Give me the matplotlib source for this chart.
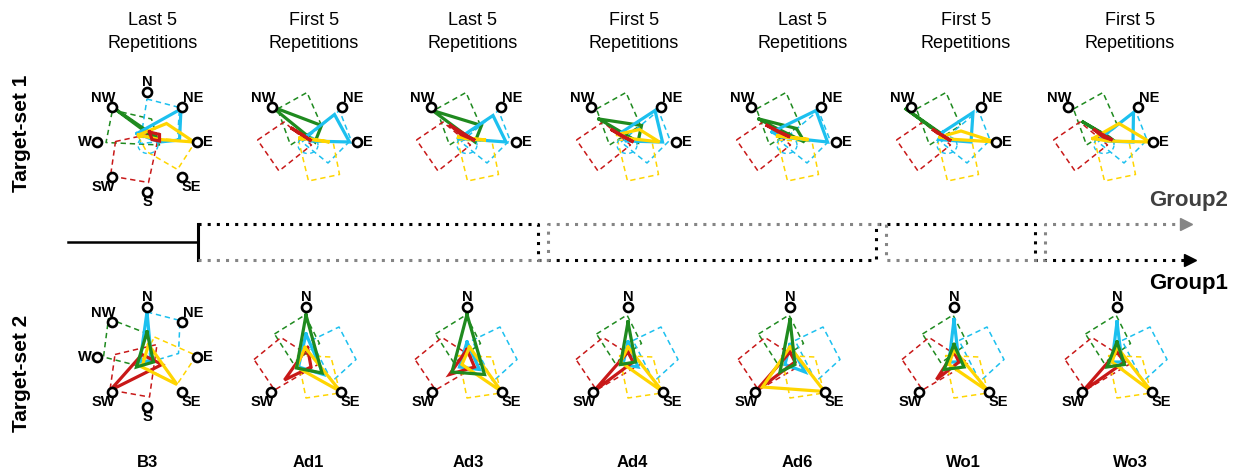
import numpy as np
import matplotlib
matplotlib.use("Agg")
import matplotlib.pyplot as plt

plt.rcParams["font.family"] = ["Liberation Sans", "DejaVu Sans"]

W, H = 1238, 473

COLUMNS = ["B3", "Ad1", "Ad3", "Ad4", "Ad6", "Wo1", "Wo3"]
TITLES = ["Last 5\nRepetitions", "First 5\nRepetitions", "Last 5\nRepetitions",
          "First 5\nRepetitions", "Last 5\nRepetitions", "First 5\nRepetitions",
          "First 5\nRepetitions"]
ROWS = ["Target-set 1", "Target-set 2"]

DIRS = ["N", "NE", "E", "SE", "S", "SW", "W", "NW"]
DIR_XY = {"N": (0, 1), "NE": (0.707, 0.707), "E": (1, 0), "SE": (0.707, -0.707),
          "S": (0, -1), "SW": (-0.707, -0.707), "W": (-1, 0), "NW": (-0.707, 0.707)}
TOP_TARGETS = ["NW", "NE", "E"]
BOT_TARGETS = ["N", "SW", "SE"]

GREEN, CYAN, RED, YELLOW = "#1f8a1f", "#1cc0ef", "#c81818", "#ffd500"

# mean movement polygons (normalised, target distance = 1)
TOP_GREEN = [
    [(-0.71, 0.71), (0.25, 0.0), (0.15, 0.12)],
    [(-0.71, 0.71), (0.29, 0.33), (0.16, 0.0)],
    [(-0.67, 0.63), (0.31, 0.33), (0.18, 0.0)],
    [(-0.54, 0.46), (0.31, 0.33), (0.24, 0.0)],
    [(-0.54, 0.46), (0.21, 0.27), (0.37, 0.0), (-0.3, 0.33)],
    [(-0.8, 0.66), (0.05, 0.04), (0.0, 0.1)],
    [(-0.4, 0.4), (0.25, 0.0), (0.12, 0.1)],
]
TOP_CYAN = [
    [(-0.2, 0.17), (0.68, 0.66), (0.65, 0.04), (0.25, 0.0)],
    [(0.0, 0.12), (0.55, 0.55), (0.85, 0.0), (0.05, 0.02)],
    [(-0.15, 0.07), (0.54, 0.53), (0.8, 0.0), (0.0, 0.06)],
    [(-0.08, 0.2), (0.58, 0.63), (0.73, 0.0), (0.0, 0.02)],
    [(-0.28, 0.2), (0.6, 0.63), (0.83, 0.0), (-0.1, 0.1)],
    [(-0.06, 0.2), (0.54, 0.59), (0.5, 0.0), (-0.15, 0.05)],
    [(0.03, 0.14), (0.61, 0.59), (0.6, 0.0), (0.05, 0.02)],
]
TOP_YELLOW = [
    [(-0.17, 0.14), (0.39, 0.37), (0.94, 0.0), (0.25, 0.05)],
    [(-0.14, 0.08), (0.45, 0.0), (0.15, 0.05)],
    [(-0.15, 0.1), (0.4, 0.04), (0.05, 0.06)],
    [(-0.17, 0.15), (0.27, 0.25), (0.67, 0.0), (0.0, 0.08)],
    [(-0.17, 0.12), (0.45, 0.05), (0.05, 0.1)],
    [(-0.12, 0.1), (0.3, 0.22), (0.98, 0.0), (0.05, 0.06)],
    [(-0.2, 0.07), (0.32, 0.37), (0.94, 0.0), (0.1, 0.02)],
]
TOP_RED = [
    [(0.05, 0.2), (0.25, 0.15), (0.25, 0.02), (0.1, 0.05)],
    [(-0.3, 0.27), (0.09, 0.02), (-0.1, 0.15)],
    [(-0.31, 0.33), (0.18, 0.03), (-0.1, 0.15)],
    [(-0.28, 0.24), (0.15, 0.0), (-0.08, 0.12)],
    [(-0.38, 0.33), (0.08, 0.1), (-0.15, 0.2)],
    [(-0.25, 0.24), (0.1, 0.02), (-0.05, 0.12)],
    [(-0.17, 0.24), (0.19, 0.04), (0.0, 0.1)],
]
BOT_GREEN = [
    [(0.0, 0.5), (-0.21, -0.2), (0.13, -0.1)],
    [(0.0, 0.84), (-0.19, -0.22), (0.32, -0.32)],
    [(0.0, 0.85), (-0.3, -0.3), (0.35, -0.35)],
    [(0.0, 0.7), (-0.15, -0.15), (0.15, -0.1)],
    [(0.0, 0.75), (-0.2, -0.3), (0.1, -0.15)],
    [(0.0, 0.25), (-0.2, -0.25), (0.2, -0.2)],
    [(0.0, 0.3), (-0.2, -0.2), (0.15, -0.15)],
]
BOT_CYAN = [
    [(0.0, 0.9), (-0.14, -0.1), (0.09, -0.07)],
    [(0.0, 0.46), (-0.15, -0.2), (0.35, -0.35)],
    [(0.0, 0.3), (-0.15, -0.2), (0.25, -0.25)],
    [(0.0, 0.3), (-0.1, -0.15), (0.2, -0.2)],
    [(0.0, 0.25), (-0.1, -0.15), (0.3, -0.3)],
    [(0.0, 0.75), (-0.1, -0.1), (0.1, -0.1)],
    [(0.0, 0.7), (-0.1, -0.1), (0.1, -0.1)],
]
BOT_YELLOW = [
    [(0.03, 0.25), (0.6, -0.55), (-0.1, -0.2)],
    [(-0.02, 0.19), (0.69, -0.69), (-0.19, -0.2)],
    [(0.05, 0.2), (0.69, -0.69), (-0.1, -0.15)],
    [(0.0, 0.2), (0.69, -0.69), (-0.15, -0.1)],
    [(0.0, 0.2), (0.69, -0.69), (-0.55, -0.6)],
    [(0.0, 0.15), (0.69, -0.69), (-0.1, -0.15)],
    [(0.0, 0.2), (0.69, -0.69), (-0.1, -0.1)],
]
BOT_RED = [
    [(-0.74, -0.67), (-0.1, 0.05), (0.3, -0.15)],
    [(0.03, 0.19), (-0.43, -0.46), (0.1, -0.2)],
    [(0.0, 0.15), (-0.35, -0.35), (0.15, -0.2)],
    [(0.0, 0.1), (-0.69, -0.69), (0.1, -0.1)],
    [(0.0, 0.1), (-0.69, -0.69), (0.1, -0.1)],
    [(0.0, 0.1), (-0.35, -0.45), (0.1, -0.1)],
    [(0.0, 0.1), (-0.69, -0.69), (0.15, -0.1)],
]

# dashed variability squares: first panel, then the others
TOP_SQ_FIRST = {
    GREEN: [(-0.69, 0.64), (0.09, 0.46), (0.25, -0.06), (-0.82, -0.01)],
    CYAN: [(0.0, 0.86), (0.65, 0.69), (0.61, 0.04), (-0.14, -0.03)],
    RED: [(-0.63, 0.01), (0.25, 0.2), (0.03, -0.81), (-0.73, -0.68)],
    YELLOW: [(-0.17, 0.1), (0.97, 0.01), (0.61, -0.55), (-0.01, -0.19)],
}
TOP_SQ = {
    GREEN: [(-0.59, 0.66), (0.0, 0.99), (0.29, 0.33), (-0.33, -0.06)],
    CYAN: [(-0.1, 0.0), (0.65, 0.63), (0.88, 0.04), (0.42, -0.42)],
    RED: [(-0.99, 0.04), (-0.46, 0.4), (0.09, -0.06), (-0.56, -0.58)],
    YELLOW: [(-0.17, 0.04), (0.52, 0.01), (0.65, -0.65), (0.03, -0.78)],
}
BOT_SQ_FIRST = {
    GREEN: [(-0.77, 0.77), (0.0, 0.47), (-0.2, -0.17), (-0.87, 0.0)],
    CYAN: [(0.0, 0.9), (0.66, 0.73), (0.63, 0.07), (0.06, -0.1)],
    RED: [(-0.64, 0.05), (0.2, 0.25), (0.05, -0.8), (-0.74, -0.66)],
    YELLOW: [(0.15, 0.4), (0.99, 0.03), (0.6, -0.55), (-0.15, -0.15)],
}
BOT_SQ = {
    GREEN: [(-0.63, 0.46), (-0.02, 0.84), (0.27, 0.27), (-0.26, -0.12)],
    CYAN: [(0.1, 0.33), (0.66, 0.6), (1.0, -0.05), (0.52, -0.49)],
    RED: [(-1.04, -0.05), (-0.5, 0.39), (0.29, -0.12), (-0.63, -0.66)],
    YELLOW: [(-0.17, 0.03), (0.5, 0.0), (0.68, -0.72), (0.0, -0.82)],
}

TOP_CX = [147, 307, 466, 626, 786, 946, 1103]
BOT_CX = [147, 306, 467, 628, 790, 954, 1117]
TOP_CY, BOT_CY = 142, 357
TITLE_X = [153, 314, 473, 634, 803, 966, 1130]
NAME_X = [147, 308, 468, 632, 797, 963, 1130]

# timeline: where the two groups swap
SWAP_X = [538, 876, 1035]
START_X, END_X = 198, 1198

R = 50.0
HALF = 75.0

# label offsets in px: (dx, dy, ha)
LABEL_OFF = {"N": (0, 10, "center"), "NE": (11, 9, "center"), "E": (6, 0, "left"),
             "SE": (9, -10, "center"), "S": (0, -10, "center"),
             "SW": (-8, -10, "center"), "W": (-5, 0, "right"),
             "NW": (-8, 9, "center")}


def fx(px):
    return px / W


def fy(py):
    return 1 - py / H


def closed(pts):
    a = np.array(pts + [pts[0]])
    return a[:, 0], a[:, 1]


def draw_panel(fig, cx, cy, targets, squares, polys, show_circle):
    ax = fig.add_axes([fx(cx - HALF), fy(cy + HALF), 2 * HALF / W, 2 * HALF / H])
    lim = HALF / R
    ax.set_xlim(-lim, lim)
    ax.set_ylim(-lim, lim)
    ax.axis("off")
    for col, sq in squares.items():
        x, y = closed(sq)
        ax.plot(x, y, color=col, lw=1.1, ls=(0, (3.5, 2.5)), zorder=1)
    if show_circle:
        t = np.linspace(0, 2 * np.pi, 60)
        ax.plot(0.02 + 0.2 * np.cos(t), -0.06 + 0.17 * np.sin(t), color=CYAN,
                lw=1.0, ls=(0, (3, 2.5)), zorder=1)
    for col, pts in polys:
        x, y = closed(pts)
        ax.plot(x, y, color=col, lw=2.3, solid_joinstyle="miter", zorder=3)
    for d in targets:
        tx, ty = DIR_XY[d]
        ax.plot(tx, ty, "o", ms=6.5, mfc="white", mec="black", mew=1.9, zorder=5)
        dx, dy, ha = LABEL_OFF[d]
        ax.text(tx + dx / R, ty + dy / R, d, ha=ha, va="center", fontsize=10.5,
                fontweight="bold", zorder=6)
    return ax


fig = plt.figure(figsize=(W / 100, H / 100), dpi=100)

# timeline axis in pixel units
tl = fig.add_axes([0, 0, 1, 1])
tl.set_xlim(0, W)
tl.set_ylim(H, 0)
tl.axis("off")
y_top, y_bot, y_mid = 224, 260, 242
tl.plot([68, START_X], [y_mid, y_mid], color="black", lw=1.8)
tl.plot([START_X, START_X], [y_top, y_bot], color="black", lw=2.2)
dot = (0, (1, 2))
g1 = [START_X] + SWAP_X + [END_X - 8]
g2 = [START_X] + [s + 10 for s in SWAP_X] + [END_X - 12]
for gx, col, first_y in [(g1, "black", y_top), (g2, "#858585", y_bot)]:
    ys = [first_y, y_bot if first_y == y_top else y_top]
    px, py = [], []
    for i in range(len(gx) - 1):
        yy = ys[i % 2]
        px += [gx[i], gx[i + 1]]
        py += [yy, yy]
    tl.plot(px, py, color=col, lw=2.2, ls=dot, dash_capstyle="butt")
    tl.plot(gx[-1], py[-1], marker=">", ms=9, color=col, mec=col)

tl.text(1228, 200, "Group2", ha="right", va="center", fontsize=16,
        fontweight="bold", color="#404040")
tl.text(1228, 283, "Group1", ha="right", va="center", fontsize=16,
        fontweight="bold", color="black")

for i, (t, x) in enumerate(zip(TITLES, TITLE_X)):
    tl.text(x, 32, t, ha="center", va="center", fontsize=13, linespacing=1.45)
for name, x in zip(COLUMNS, NAME_X):
    tl.text(x, 462, name, ha="center", va="center", fontsize=12, fontweight="bold")
tl.text(22, 133, ROWS[0], rotation=90, ha="center", va="center", fontsize=15,
        fontweight="bold")
tl.text(22, 373, ROWS[1], rotation=90, ha="center", va="center", fontsize=15,
        fontweight="bold")

for i in range(7):
    first = i == 0
    polys = [(GREEN, TOP_GREEN[i]), (CYAN, TOP_CYAN[i]), (YELLOW, TOP_YELLOW[i]),
             (RED, TOP_RED[i])]
    draw_panel(fig, TOP_CX[i], TOP_CY, DIRS if first else TOP_TARGETS,
               TOP_SQ_FIRST if first else TOP_SQ, polys, True)
    polys = [(CYAN, BOT_CYAN[i]), (RED, BOT_RED[i]), (YELLOW, BOT_YELLOW[i]),
             (GREEN, BOT_GREEN[i])]
    draw_panel(fig, BOT_CX[i], BOT_CY, DIRS if first else BOT_TARGETS,
               BOT_SQ_FIRST if first else BOT_SQ, polys, False)

fig.savefig("out.png", dpi=100)
